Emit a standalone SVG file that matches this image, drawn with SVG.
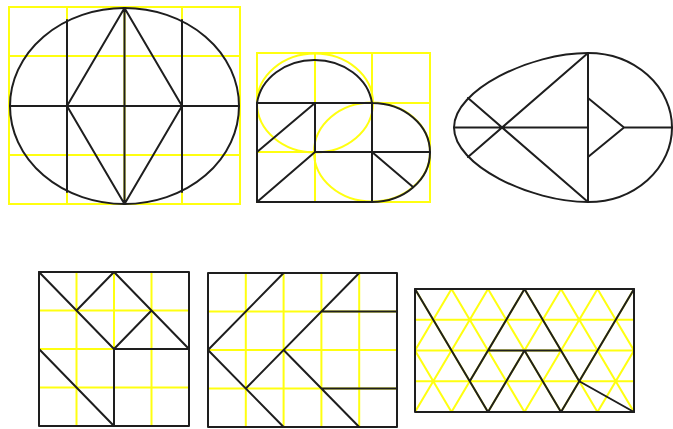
<svg xmlns="http://www.w3.org/2000/svg" width="673" height="429" viewBox="0 0 673 429">
<style>
.y{fill:none;stroke:#ffff10;stroke-width:2}
.k{fill:none;stroke:#1e1e1e;stroke-width:2;stroke-linejoin:round;stroke-linecap:round}
</style>
<defs>
<clipPath id="c6"><rect x="415" y="289" width="219" height="123"/></clipPath>
</defs>
<rect width="673" height="429" fill="#fff"/>

<g id="fig1">
<path class="y" d="M9,7H240V204H9Z M67,7V204 M124.5,7V204 M182,7V204 M9,56H240 M9,106H240 M9,155H240"/>
<ellipse class="k" cx="124.5" cy="106" rx="114.5" ry="98"/>
<path class="k" d="M67,20V192 M182,20V192 M124.5,8V204 M10,106H239 M124.5,8L67,106L124.5,204L182,106Z"/>
</g>

<g id="fig2">
<path class="y" d="M257,53H430V202H257Z M315,53V202 M372,53V202 M257,103H430 M257,152H430"/>
<ellipse class="y" cx="315" cy="103" rx="58" ry="49.5"/>
<ellipse class="y" cx="372" cy="152" rx="58" ry="49.5"/>
<path class="k" d="M257,202V103A58,49.5 0 0 1 372,103A58,49.5 0 0 1 372,202H257Z"/>
<path class="k" d="M257,103H372 M315,103V152H430 M372,103V202 M315,103L257,152 M315,152L257,202 M372,152L413,187"/>
</g>

<g id="fig3">
<path class="k" d="M588,53C530,53 454,90 454,127.5C454,165 530,202 588,202A84,74.5 0 0 0 588,53Z"/>
<path class="k" d="M454,127.5H588 M624,127.5H672 M588,53V202 M468,157L588,53 M468,98L588,202 M588,98L624,127.5L588,157"/>
</g>

<g id="fig4">
<path class="y" d="M76.5,272V426 M114,272V426 M151.5,272V426 M39,310.5H189 M39,349H189 M39,387.5H189"/>
<rect class="k" x="39" y="272" width="150" height="154"/>
<path class="k" d="M39,272L114,349 M114,272L76.5,310.5 M114,272L189,349 M151.5,310.5L114,349 M114,349H189 M114,349V426 M39,349L114,426"/>
</g>

<g id="fig5">
<path class="y" d="M245.8,273V427 M283.6,273V427 M321.4,273V427 M359.2,273V427 M208,311.5H397 M208,350H397 M208,388.5H397"/>
<rect class="k" x="208" y="273" width="189" height="154"/>
<path class="k" d="M208,350L283.6,273 M208,350L283.6,427 M245.8,388.5L359.2,273 M283.6,350L359.2,427 M321.4,311.5H397 M321.4,388.5H397"/>
</g>

<g id="fig6">
<g clip-path="url(#c6)">
<path class="y" d="M415,319.75H634 M415,350.5H634 M415,381.25H634
M342,289l73,123 M378.5,289l73,123 M415,289l73,123 M451.5,289l73,123 M488,289l73,123 M524.5,289l73,123 M561,289l73,123 M597.5,289l73,123
M451.5,289l-73,123 M488,289l-73,123 M524.5,289l-73,123 M561,289l-73,123 M597.5,289l-73,123 M634,289l-73,123 M670.5,289l-73,123 M707,289l-73,123"/>
</g>
<rect class="k" x="415" y="289" width="219" height="123"/>
<path class="k" d="M415,289L488,412 M524.5,289L469.75,381.25 M524.5,289L579.25,381.25 M488,350.5H561 M488,412L524.5,350.5L561,412 M634,289L561,412 M579.25,381.25L634,412"/>
</g>
</svg>
